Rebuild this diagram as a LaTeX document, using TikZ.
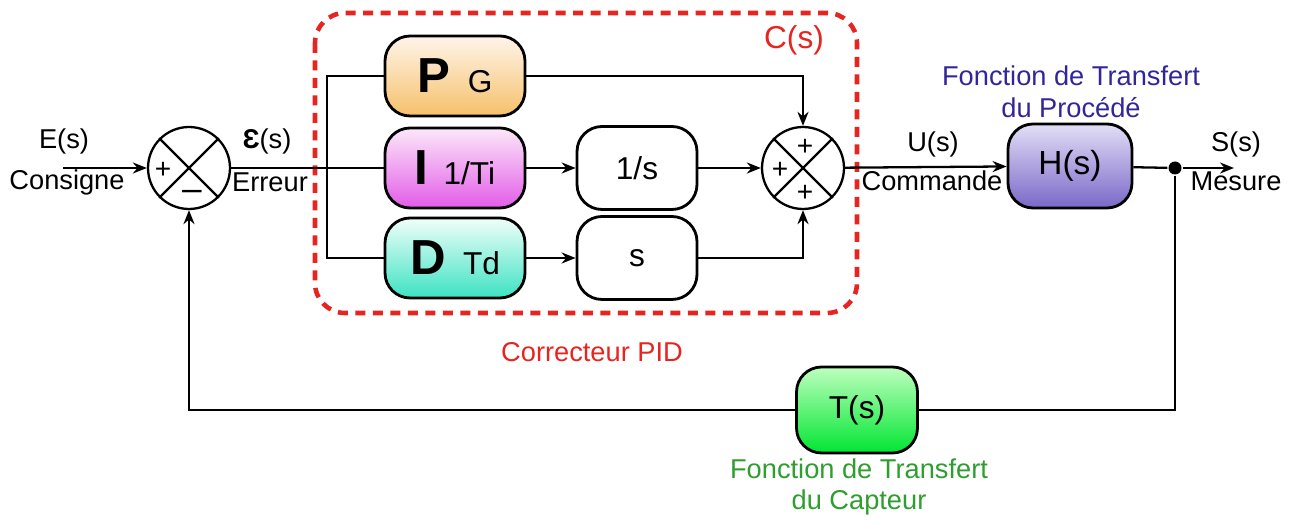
\documentclass[tikz,border=0pt]{standalone}
\usepackage{fontspec}
\setmainfont{Liberation Sans}
\usepackage{xcolor}
\usepackage{tikz}
\usetikzlibrary{arrows.meta, positioning}

\definecolor{pidrouge}{HTML}{E62420}
\definecolor{procbleu}{HTML}{30269A}
\definecolor{captvert}{HTML}{2E9E2E}

\begin{document}
\begin{tikzpicture}[x=0.02cm, y=-0.02cm, line width=1.3pt,
    >={Stealth[length=0.28cm, width=0.22cm]},
    blk/.style={draw, line width=1.6pt, rounded corners=0.5cm, minimum width=2.8cm,
        minimum height=1.6cm, inner sep=0pt, font=\fontsize{18}{20}\selectfont},
    sumnode/.style={draw, circle, minimum size=1.64cm, inner sep=0pt},
    sgn/.style={inner sep=0pt, font=\fontsize{16}{16}\selectfont},
    lbl/.style={inner sep=0pt, font=\fontsize{15.5}{18}\selectfont},
    jdot/.style={circle, fill, inner sep=0pt, minimum size=0.26cm},
    pidframe/.style={draw=pidrouge, line width=2.6pt, dash pattern=on 0.2cm off 0.15cm,
        rounded corners=0.6cm}]
    \useasboundingbox (0,0) rectangle (1302,526);

    % Cadre du correcteur PID
    \draw[pidframe] (315,13) rectangle (857,313);
    \node[lbl, text=pidrouge, font=\fontsize{18}{20}\selectfont] (cs) at (794,40) {C(s)};
    \node[lbl, text=pidrouge] (pidlbl) at (592,352) {Correcteur PID};

    % Comparateur et sommateur
    \node[sumnode] (s1) at (189,168) {};
    \draw (s1.north west) -- (s1.south east) (s1.north east) -- (s1.south west);
    \node[sgn] (s1p) at (163,170) {+};
    \node[sgn, font=\fontsize{20}{20}\selectfont] (s1m) at (192,195) {--};
    \node[sumnode] (s2) at (803,168) {};
    \draw (s2.north west) -- (s2.south east) (s2.north east) -- (s2.south west);
    \node[sgn] (s2t) at (805,147) {+};
    \node[sgn] (s2l) at (780,170) {+};
    \node[sgn] (s2b) at (805,193) {+};

    % Blocs P, I, D
    \node[blk, top color=orange!8, bottom color={rgb,255:red,246;green,192;blue,106}] (P) at (455,76)
        {{\fontsize{28}{28}\selectfont\bfseries P}\hspace{0.35cm}G};
    \node[blk, top color={rgb,255:red,252;green,232;blue,249}, bottom color={rgb,255:red,226;green,92;blue,232}] (I) at (455,168)
        {{\fontsize{28}{28}\selectfont\bfseries I}\hspace{0.3cm}1/Ti};
    \node[blk, top color={rgb,255:red,240;green,255;blue,250}, bottom color={rgb,255:red,60;green,226;blue,194}] (D) at (455,258)
        {{\fontsize{28}{28}\selectfont\bfseries D}\hspace{0.35cm}Td};
    \node[blk, minimum width=2.4cm, minimum height=1.66cm] (int) at (637,168) {1/s};
    \node[blk, minimum width=2.4cm, minimum height=1.66cm] (der) at (637,258) {s};

    % Procédé et capteur
    \node[blk, font=\fontsize{19}{21}\selectfont, minimum width=2.48cm, minimum height=1.68cm, top color={rgb,255:red,226;green,222;blue,246}, bottom color={rgb,255:red,122;green,104;blue,200}] (H) at (1070,166) {H(s)};
    \node[lbl, text=procbleu, align=center] (hlbl) at (1071,92) {Fonction de Transfert\\du Procédé};
    \node[blk, minimum width=2.42cm, minimum height=1.72cm, top color={rgb,255:red,190;green,255;blue,190}, bottom color={rgb,255:red,0;green,230;blue,50}] (T) at (857,410) {T(s)};
    \node[lbl, text=captvert, align=center] (tlbl) at (859,487) {Fonction de Transfert\\du Capteur};

    % Signaux
    \coordinate (in) at (63,168);
    \coordinate (br) at (327,168);
    \node[jdot] (jn) at (1175,168) {};
    \coordinate (out) at (1234,168);
    \node[lbl] (es) at (64,141) {E(s)};
    \node[lbl] (cons) at (67,182) {Consigne};
    \node[lbl] (eps) at (267,141) {{\bfseries Ɛ}(s)};
    \node[lbl] (err) at (270,182) {Erreur};
    \node[lbl] (us) at (933,144) {U(s)};
    \node[lbl] (cmd) at (932,181) {Commande};
    \node[lbl] (ss) at (1236,144) {S(s)};
    \node[lbl] (mes) at (1236,181) {Mesure};

    % Liaisons
    \draw[->] (in) -- (s1);
    \draw (s1) -- (I);
    \draw (P.west) -| (br) |- (D.west);
    \draw[->] (I) -- (int);
    \draw[->] (D) -- (der);
    \draw[->] (int) -- (s2);
    \draw[->] (P.east) -| (s2.north);
    \draw[->] (der.east) -| (s2.south);
    \draw[->] (s2) -- (H);
    \draw (H) -- (jn);
    \draw[->] (jn) -- (out);
    \draw (jn) |- (T.east);
    \draw[->] (T.west) -| (s1.south);
\end{tikzpicture}
\end{document}
